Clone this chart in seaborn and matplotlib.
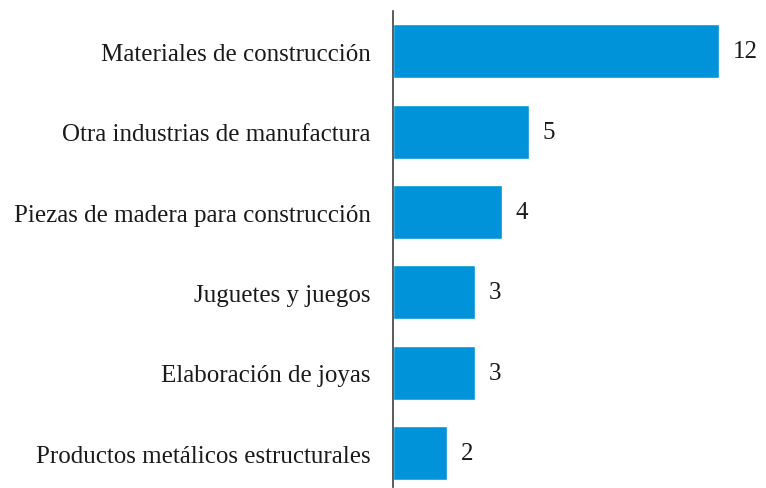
import matplotlib
matplotlib.use('Agg')
from matplotlib import pyplot as plt
import pandas as pd
import seaborn as sns

categorias = ['Materiales de construcción',
              'Otra industrias de manufactura',
              'Piezas de madera para construcción',
              'Juguetes y juegos',
              'Elaboración de joyas',
              'Productos metálicos estructurales']
valores = [12, 5, 4, 3, 3, 2]

df = pd.DataFrame({'categoria': categorias, 'valor': valores})

sns.set_style('white')
plt.rcParams['font.family'] = ['Liberation Serif', 'DejaVu Serif']

fig = plt.figure(figsize=(7.66, 4.89), dpi=100)
ax = fig.add_axes([393 / 766, 1 - 488 / 489, (760 - 393) / 766, (488 - 12) / 489])

sns.barplot(data=df, x='valor', y='categoria', orient='h', color='#0093D9',
            saturation=1, width=0.67, ax=ax)

for c in ax.containers:
    ax.bar_label(c, padding=10, fontsize=18, color='#1a1a1a')

ax.set_xlim(0, 13.5)
ax.set_ylim(5.42, -0.5)
ax.set_xlabel('')
ax.set_ylabel('')
ax.set_xticks([])
ax.tick_params(axis='y', length=0, pad=16, labelsize=18, labelcolor='#1a1a1a')
for s in ['top', 'right', 'bottom']:
    ax.spines[s].set_visible(False)
ax.spines['left'].set_color('#404040')
ax.spines['left'].set_linewidth(1.2)

fig.savefig('out.png', dpi=100)
